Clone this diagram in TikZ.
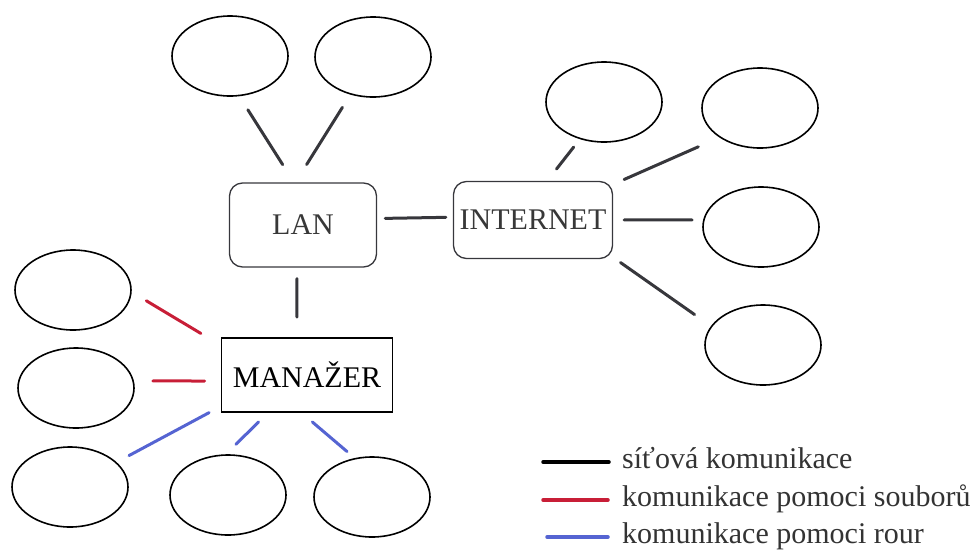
\documentclass[tikz,border=0pt]{standalone}
\usepackage{fontspec}
\setmainfont{Liberation Serif}
\newfontfamily\diagfont{Liberation Serif}
\usetikzlibrary{shapes.geometric}
\definecolor{netgray}{RGB}{55,55,60}
\definecolor{filered}{RGB}{200,30,55}
\definecolor{pipeblue}{RGB}{85,100,210}

\begin{document}
\begin{tikzpicture}[x=1pt,y=-1pt,font=\diagfont\fontsize{30}{36}\selectfont,line cap=round,
  leaf/.style={ellipse,draw,line width=1.6pt,minimum width=116pt,minimum height=80pt,inner sep=0pt},
  hub/.style={draw=netgray,line width=1.3pt,rounded corners=13pt,text=black!78,inner sep=2pt},
  net/.style={netgray,line width=3pt},
  file/.style={filered,line width=3pt},
  pipe/.style={pipeblue,line width=3pt},
  legtext/.style={anchor=west,inner sep=0pt,text height=20pt,text depth=8pt,text=black!80}]
\useasboundingbox (0,0) rectangle (976,552);
\node[hub,minimum width=147pt,minimum height=84pt] (lan) at (303,225) {LAN};
\node[hub,minimum width=159pt,minimum height=77pt] (inet) at (533,220) {INTERNET};
\node[draw,line width=1.8pt,minimum width=171pt,minimum height=74pt,inner sep=2pt] (man) at (307,375) {MANAŽER};
\node[leaf] (lanpc1) at (230,56) {};
\node[leaf] (lanpc2) at (373,57) {};
\node[leaf] (web1) at (604,102) {};
\node[leaf] (web2) at (760,108) {};
\node[leaf] (web3) at (761,227) {};
\node[leaf] (web4) at (763,345) {};
\node[leaf] (app1) at (73,290) {};
\node[leaf] (app2) at (76,388) {};
\node[leaf] (app3) at (70,487) {};
\node[leaf] (app4) at (228,495) {};
\node[leaf] (app5) at (372,497) {};
\draw[net,shorten <=16pt,shorten >=21pt] (lanpc1.-77) -- (lan.102);
\draw[net,shorten <=15pt,shorten >=21pt] (lanpc2.-121) -- (lan.100);
\draw[net,shorten <=8pt,shorten >=7pt] (lan.5) -- (inet.178);
\draw[net,shorten <=11pt,shorten >=20pt] (lan.-98) -- (man.105);
\draw[net,shorten <=15pt,shorten >=10pt] (inet.70) -- (web1.-123);
\draw[net,shorten <=12pt,shorten >=23pt] (inet.24) -- (web2.-144);
\draw[net,shorten <=11pt,shorten >=11pt] (inet.0) -- (web3.173);
\draw[net,shorten <=9pt,shorten >=20pt] (inet.-25) -- (web4.160);
\draw[file,shorten <=17pt,shorten >=23pt] (app1.-2) -- (man.161);
\draw[file,shorten <=19pt,shorten >=16pt] (app2.7) -- (man.184);
\draw[pipe,shorten <=14pt,shorten >=13pt] (app3.28) -- (man.200);
\draw[pipe,shorten <=14pt,shorten >=13pt] (app4.93) -- (man.-136);
\draw[pipe,shorten <=14pt,shorten >=10pt] (man.-98) -- (app5.114);
\node[legtext] (leg1) at (622,462) {síťová komunikace};
\node[legtext] (leg2) at (622,500) {komunikace pomoci souborů};
\node[legtext] (leg3) at (622,537) {komunikace pomoci rour};
\draw[black,line width=3.5pt] ([xshift=-79pt]leg1.west) -- ([xshift=-13pt]leg1.west);
\draw[filered,line width=3.5pt] ([xshift=-79pt]leg2.west) -- ([xshift=-14pt]leg2.west);
\draw[pipeblue,line width=3.5pt] ([xshift=-75pt]leg3.west) -- ([xshift=-14pt]leg3.west);
\end{tikzpicture}
\end{document}
